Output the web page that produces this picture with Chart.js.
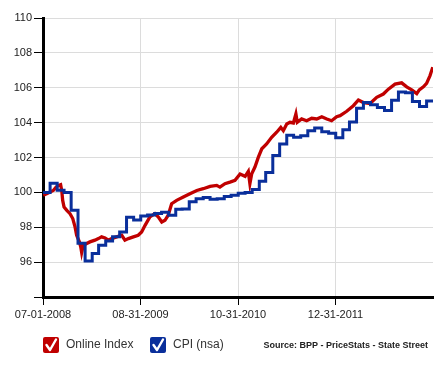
<!DOCTYPE html>
<html><head><meta charset="utf-8">
<script src="https://cdn.jsdelivr.net/npm/chart.js@4/dist/chart.umd.min.js"></script>
<style>html,body{margin:0;padding:0;background:#fff;}#wrap{width:448px;height:365px;position:relative;}canvas{display:block;}</style>
</head><body><div id="wrap"><canvas id="c" width="448" height="365"></canvas></div>
<script>
const startDate = '2008-07-01';
const endDate = '2013-03-01';
const xTickDates = ['2008-07-01','2009-08-31','2010-10-31','2011-12-31'];
const yTicks = [94,96,98,100,102,104,106,108,110];
const seriesNames = ['Online Index','CPI (nsa)'];
const sourceText = 'Source: BPP - PriceStats - State Street';

const onlineDates = ['2008-07-02','2008-07-17','2008-08-01','2008-08-15','2008-08-27','2008-09-06','2008-09-16','2008-09-21','2008-09-25','2008-10-01',
'2008-10-13','2008-10-27','2008-11-08','2008-11-18','2008-11-25','2008-12-07','2008-12-13','2008-12-17','2008-12-24','2009-01-08',
'2009-01-22','2009-02-13','2009-02-28','2009-03-14','2009-03-29','2009-04-12','2009-04-27','2009-05-19','2009-06-10','2009-06-24',
'2009-07-09','2009-07-31','2009-08-21','2009-09-05','2009-09-20','2009-10-11','2009-11-02','2009-11-17','2009-12-02','2009-12-16',
'2009-12-30','2010-01-14','2010-02-05','2010-03-06','2010-04-04','2010-05-04','2010-06-01','2010-07-01','2010-07-30','2010-08-13',
'2010-09-04','2010-09-26','2010-10-18','2010-11-09','2010-12-01','2010-12-15','2010-12-22','2010-12-30','2011-01-13','2011-01-28',
'2011-02-12','2011-03-05','2011-03-27','2011-04-18','2011-05-06','2011-05-17','2011-06-01','2011-06-15','2011-06-30','2011-07-11',
'2011-07-17','2011-08-05','2011-08-27','2011-09-18','2011-10-10','2011-11-01','2011-11-23','2011-12-14','2012-01-05','2012-01-20',
'2012-02-18','2012-03-18','2012-04-09','2012-05-01','2012-05-30','2012-06-28','2012-07-27','2012-08-18','2012-09-16','2012-10-15',
'2012-11-06','2012-11-28','2012-12-20','2012-12-31','2013-01-18','2013-02-01','2013-02-16','2013-02-28'];
const onlineValues = [99.83,99.92,100.02,100.11,100.30,100.40,100.44,100.10,99.54,99.16,
98.97,98.78,98.50,98.02,97.54,97.16,96.87,96.55,96.97,97.07,
97.16,97.26,97.35,97.45,97.39,97.26,97.35,97.45,97.54,97.26,
97.35,97.45,97.54,97.73,98.11,98.59,98.78,98.59,98.30,98.40,
98.69,99.35,99.54,99.73,99.92,100.11,100.21,100.34,100.40,100.30,
100.50,100.59,100.69,101.05,100.92,101.20,100.50,101.07,101.45,102.02,
102.50,102.78,103.16,103.45,103.73,103.54,103.92,104.02,103.98,104.50,
104.02,104.21,104.11,104.25,104.21,104.34,104.21,104.11,104.34,104.40,
104.65,104.97,105.30,105.15,105.10,105.45,105.64,105.92,106.21,106.28,
106.05,105.88,105.66,105.88,106.05,106.25,106.70,107.18];

const cpiMonths = ['2008-07','2008-08','2008-09','2008-10','2008-11','2008-12',
'2009-01','2009-02','2009-03','2009-04','2009-05','2009-06','2009-07','2009-08','2009-09','2009-10','2009-11','2009-12',
'2010-01','2010-02','2010-03','2010-04','2010-05','2010-06','2010-07','2010-08','2010-09','2010-10','2010-11','2010-12',
'2011-01','2011-02','2011-03','2011-04','2011-05','2011-06','2011-07','2011-08','2011-09','2011-10','2011-11','2011-12',
'2012-01','2012-02','2012-03','2012-04','2012-05','2012-06','2012-07','2012-08','2012-09','2012-10','2012-11','2012-12',
'2013-01','2013-02'];
const cpiValues = [100.00,100.52,100.12,99.99,98.98,97.08,
96.07,96.49,96.97,97.21,97.45,97.73,98.57,98.42,98.64,98.70,98.79,98.86,
98.69,99.03,99.05,99.46,99.63,99.71,99.61,99.63,99.77,99.83,99.95,99.99,
100.16,100.64,101.14,102.12,102.78,103.27,103.16,103.25,103.53,103.69,103.47,103.39,
103.13,103.59,104.04,104.83,105.15,105.03,104.87,104.70,105.29,105.76,105.71,105.21,
104.93,105.24];

const BASE = Date.UTC(2008,6,1);
function dayOf(s){const p=s.split('-').map(Number);return Math.round((Date.UTC(p[0],p[1]-1,p[2]||1)-BASE)/864e5);}
function fmt(v){const d=new Date(BASE+v*864e5);const z=n=>String(n).padStart(2,'0');return z(d.getUTCMonth()+1)+'-'+z(d.getUTCDate())+'-'+d.getUTCFullYear();}

const RED='#c00000', BLUE='#0a2f9b';
const onlinePts = onlineDates.map((d,i)=>({x:dayOf(d),y:onlineValues[i]}));
const cpiPts = cpiMonths.map((m,i)=>({x:dayOf(m),y:cpiValues[i]}));
cpiPts.push({x:dayOf(endDate),y:cpiValues[cpiValues.length-1]});

const FONT='Arial, "Liberation Sans", sans-serif';

const legendPlugin = {
  id:'customLegend',
  afterDraw(chart){
    const ctx=chart.ctx; ctx.save();
    const items=[{x:43,color:RED,label:seriesNames[0]},{x:150,color:BLUE,label:seriesNames[1]}];
    const y=337;
    items.forEach(it=>{
      ctx.fillStyle=it.color;
      ctx.beginPath();
      if(ctx.roundRect) ctx.roundRect(it.x,y,16,16,2); else ctx.rect(it.x,y,16,16);
      ctx.fill();
      ctx.strokeStyle='#fff'; ctx.lineWidth=2.4; ctx.lineCap='round'; ctx.lineJoin='round';
      ctx.beginPath(); ctx.moveTo(it.x+3.5,y+8); ctx.lineTo(it.x+7,y+13); ctx.lineTo(it.x+13,y+2.5); ctx.stroke();
      ctx.fillStyle='#333'; ctx.font='12px '+FONT; ctx.textBaseline='middle'; ctx.textAlign='left';
      ctx.fillText(it.label,it.x+23,y+8);
    });
    ctx.font='bold 9px '+FONT; ctx.fillStyle='#222'; ctx.textAlign='right';
    ctx.fillText(sourceText,428,y+9);
    ctx.restore();
  }
};

new Chart(document.getElementById('c'),{
  type:'line',
  data:{datasets:[
    {label:seriesNames[1],data:cpiPts,borderColor:BLUE,borderWidth:3,stepped:'before',pointRadius:0,fill:false,order:0},
    {label:seriesNames[0],data:onlinePts,borderColor:RED,borderWidth:3.3,pointRadius:0,fill:false,tension:0,order:1}
  ]},
  options:{
    responsive:false,animation:false,devicePixelRatio:1,
    layout:{padding:{top:18,right:15,bottom:38,left:0}},
    plugins:{legend:{display:false},tooltip:{enabled:false}},
    scales:{
      x:{type:'linear',min:0,max:dayOf(endDate),
        afterBuildTicks(s){s.ticks=xTickDates.map(d=>({value:dayOf(d)}));},
        afterFit(s){s.height=30;},
        ticks:{callback:v=>fmt(v),color:'#222',font:{size:11,family:FONT},padding:3,maxRotation:0,autoSkip:false},
        grid:{color:'#dcdcdc',lineWidth:1,tickLength:8,tickColor:'#000',tickWidth:1},
        border:{color:'#000',width:3}
      },
      y:{min:94,max:110,
        afterBuildTicks(s){s.ticks=yTicks.map(v=>({value:v}));},
        afterFit(s){s.width=43;},
        ticks:{callback:v=>v===94?'':String(v),color:'#222',font:{size:11,family:FONT},padding:2},
        grid:{color:'#dcdcdc',lineWidth:1,tickLength:9,tickColor:'#000',tickWidth:1},
        border:{color:'#000',width:3}
      }
    }
  },
  plugins:[legendPlugin]
});
</script></body></html>
